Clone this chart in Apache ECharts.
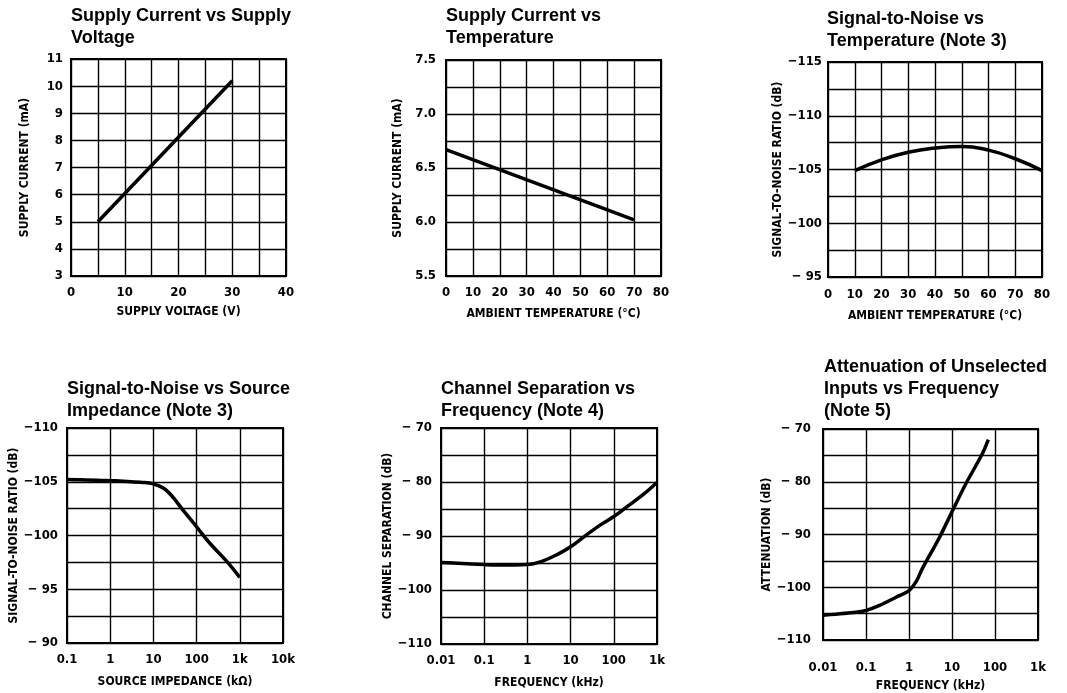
<!DOCTYPE html>
<html>
<head>
<meta charset="utf-8">
<style>
  html, body { margin: 0; padding: 0; background: #fff; }
  #main { width: 1067px; height: 693px; }
</style>
<script src="https://cdn.jsdelivr.net/npm/echarts@6/dist/echarts.min.js"></script>
</head>
<body>
<div id="main"></div>
<script>
// panel 1: supply current vs supply voltage
const p1Voltage = [5, 30];
const p1Current = [5.0, 10.2];
// panel 2: supply current vs temperature
const p2Temp = [0, 70];
const p2Current = [6.67, 6.02];
// panel 3: signal-to-noise vs temperature
const p3Temp = [10, 20, 30, 40, 50, 60, 70, 80];
const p3Snr = [-104.9, -105.9, -106.6, -107.0, -107.15, -106.8, -106.0, -104.9];
// panel 4: signal-to-noise vs source impedance
const p4Imp = [0.1, 0.2, 0.5, 1, 2, 5, 10, 20, 50, 100, 200, 500, 1000];
const p4Snr = [-105.2, -105.18, -105.15, -105.1, -105.05, -104.95, -104.8, -104.2, -102.3, -100.8, -99.3, -97.6, -96.1];
// panel 5: channel separation vs frequency
const p5Freq = [0.01, 0.02, 0.05, 0.1, 0.2, 0.5, 1, 2, 5, 10, 20, 50, 100, 200, 500, 1000];
const p5Sep = [-94.9, -95.0, -95.2, -95.3, -95.35, -95.35, -95.3, -94.8, -93.4, -92.0, -90.2, -87.9, -86.4, -84.6, -82.2, -80.1];
// panel 6: attenuation of unselected inputs vs frequency
const p6Freq = [0.01, 0.02, 0.05, 0.1, 0.2, 0.5, 1, 1.5, 2, 5, 10, 20, 50, 70];
const p6Att = [-105.3, -105.1, -104.8, -104.4, -103.5, -101.9, -100.65, -98.8, -96.6, -90.7, -85.7, -80.7, -74.8, -72.0];

// log axis tick labels, keyed by decade exponent
const impedanceTicks = { '-1': '0.1', '0': '1', '1': '10', '2': '100', '3': '1k', '4': '10k' };
const freqTicks = { '-2': '0.01', '-1': '0.1', '0': '1', '1': '10', '2': '100', '3': '1k' };

const tickFont = "'Liberation Sans Narrow', 'DejaVu Sans Condensed', sans-serif";
const titleFont = "'Liberation Sans', Arial, sans-serif";

function zip(xs, ys) {
    return xs.map((x, i) => [x, ys[i]]);
}

function negLabel(v) {
    if (v >= 0) return String(v);
    let a = Math.abs(v);
    return a < 100 ? '\u2212 ' + a : '\u2212' + a;
}

function logLabel(table) {
    return v => {
        let e = Math.round(Math.log10(v));
        return table[e] || '';
    };
}

const splitLine = { show: true, lineStyle: { color: '#000', width: 1.4 } };
const axisLine = { show: true, lineStyle: { color: '#000', width: 2 } };

function xAxis(idx, opt) {
    return Object.assign({
        gridIndex: idx,
        type: 'value',
        nameLocation: 'middle',
        nameTextStyle: { fontFamily: tickFont, fontWeight: 'bold', fontSize: 12, color: '#000' },
        axisLine: axisLine,
        axisTick: { show: false },
        splitLine: splitLine,
        axisLabel: { color: '#000', fontFamily: tickFont, fontWeight: 'bold', fontSize: 13, margin: 10, showMinLabel: true, showMaxLabel: true }
    }, opt);
}

function yAxis(idx, opt) {
    return Object.assign({
        gridIndex: idx,
        type: 'value',
        nameLocation: 'middle',
        nameRotate: 90,
        nameTextStyle: { fontFamily: tickFont, fontWeight: 'bold', fontSize: 12, color: '#000' },
        axisLine: axisLine,
        axisTick: { show: false },
        splitLine: splitLine,
        axisLabel: { color: '#000', fontFamily: tickFont, fontWeight: 'bold', fontSize: 13, margin: 8, showMinLabel: true, showMaxLabel: true }
    }, opt);
}

function titleAt(text, left, top) {
    return {
        text: text,
        left: left,
        top: top,
        padding: 0,
        textStyle: { fontFamily: titleFont, fontWeight: 'bold', fontSize: 18, lineHeight: 22, color: '#000' }
    };
}

function curve(idx, data, smooth) {
    return {
        type: 'line',
        xAxisIndex: idx,
        yAxisIndex: idx,
        data: data,
        smooth: smooth,
        showSymbol: false,
        silent: true,
        lineStyle: { color: '#000', width: 3.5 }
    };
}

let myChart = echarts.init(document.getElementById('main'), null, { renderer: 'canvas' });

let option = {
    backgroundColor: '#fff',
    animation: false,
    title: [
        titleAt('Supply Current vs Supply\nVoltage', 71, 5),
        titleAt('Supply Current vs\nTemperature', 446, 5),
        titleAt('Signal-to-Noise vs\nTemperature (Note 3)', 827, 8),
        titleAt('Signal-to-Noise vs Source\nImpedance (Note 3)', 67, 378),
        titleAt('Channel Separation vs\nFrequency (Note 4)', 441, 378),
        titleAt('Attenuation of Unselected\nInputs vs Frequency\n(Note 5)', 824, 356)
    ],
    grid: [
        { left: 71, top: 59, width: 215, height: 217 },
        { left: 446, top: 60, width: 215, height: 216 },
        { left: 828, top: 62, width: 214, height: 215 },
        { left: 67, top: 428, width: 216, height: 215 },
        { left: 441, top: 428, width: 216, height: 216 },
        { left: 823, top: 429, width: 215, height: 216 }
    ].map(g => Object.assign(g, { show: true, borderColor: '#000', borderWidth: 2 })),
    xAxis: [
        xAxis(0, {
            min: 0, max: 40, interval: 5, name: 'SUPPLY VOLTAGE (V)', nameGap: 30,
            axisLabel: Object.assign({}, xAxis(0).axisLabel, { formatter: v => v % 10 === 0 ? String(v) : '' })
        }),
        xAxis(1, { min: 0, max: 80, interval: 10, name: 'AMBIENT TEMPERATURE (\u00b0C)', nameGap: 32 }),
        xAxis(2, { min: 0, max: 80, interval: 10, name: 'AMBIENT TEMPERATURE (\u00b0C)', nameGap: 33,
            axisLabel: Object.assign({}, xAxis(2).axisLabel, { margin: 11 }) }),
        xAxis(3, {
            type: 'log', logBase: 10, min: 0.1, max: 10000, name: 'SOURCE IMPEDANCE (k\u03a9)', nameGap: 33,
            axisLabel: Object.assign({}, xAxis(3).axisLabel, { formatter: logLabel(impedanceTicks) })
        }),
        xAxis(4, {
            type: 'log', logBase: 10, min: 0.01, max: 1000, name: 'FREQUENCY (kHz)', nameGap: 33,
            axisLabel: Object.assign({}, xAxis(4).axisLabel, { formatter: logLabel(freqTicks) })
        }),
        xAxis(5, {
            type: 'log', logBase: 10, min: 0.01, max: 1000, name: 'FREQUENCY (kHz)', nameGap: 40,
            axisLabel: Object.assign({}, xAxis(5).axisLabel, { margin: 21, formatter: logLabel(freqTicks) })
        })
    ],
    yAxis: [
        yAxis(0, { min: 3, max: 11, interval: 1, name: 'SUPPLY CURRENT (mA)', nameGap: 40 }),
        yAxis(1, {
            min: 5.5, max: 7.5, interval: 0.25, name: 'SUPPLY CURRENT (mA)', nameGap: 42,
            axisLabel: Object.assign({}, yAxis(1).axisLabel, { margin: 10, formatter: v => Math.abs(v * 2 - Math.round(v * 2)) < 1e-6 ? v.toFixed(1) : '' })
        }),
        yAxis(2, {
            min: -115, max: -95, interval: 2.5, inverse: true, name: 'SIGNAL-TO-NOISE RATIO (dB)', nameGap: 40,
            axisLabel: Object.assign({}, yAxis(2).axisLabel, { margin: 6, formatter: v => v % 5 === 0 ? negLabel(v) : '' })
        }),
        yAxis(3, {
            min: -110, max: -90, interval: 2.5, inverse: true, name: 'SIGNAL-TO-NOISE RATIO (dB)', nameGap: 47,
            axisLabel: Object.assign({}, yAxis(3).axisLabel, { margin: 9, formatter: v => v % 5 === 0 ? negLabel(v) : '' })
        }),
        yAxis(4, {
            min: -110, max: -70, interval: 5, name: 'CHANNEL SEPARATION (dB)', nameGap: 42,
            axisLabel: Object.assign({}, yAxis(4).axisLabel, { margin: 9, formatter: v => v % 10 === 0 ? negLabel(v) : '' })
        }),
        yAxis(5, {
            min: -110, max: -70, interval: 5, name: 'ATTENUATION (dB)', nameGap: 42,
            axisLabel: Object.assign({}, yAxis(5).axisLabel, { margin: 12, formatter: v => v % 10 === 0 ? negLabel(v) : '' })
        })
    ],
    series: [
        curve(0, zip(p1Voltage, p1Current), false),
        curve(1, zip(p2Temp, p2Current), false),
        curve(2, zip(p3Temp, p3Snr), 0.5),
        curve(3, zip(p4Imp, p4Snr), 0.4),
        curve(4, zip(p5Freq, p5Sep), 0.4),
        curve(5, zip(p6Freq, p6Att), 0.3)
    ]
};

myChart.setOption(option);
</script>
</body>
</html>
